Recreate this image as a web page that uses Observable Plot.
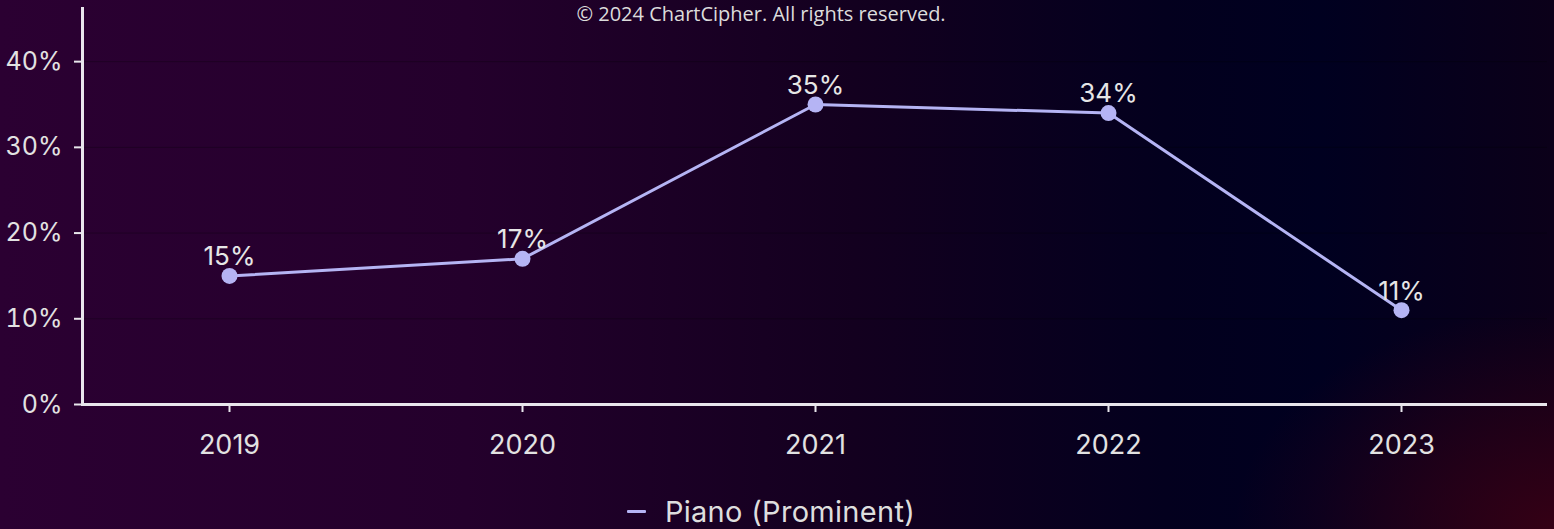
<!DOCTYPE html>
<html>
<head>
<meta charset="utf-8">
<script src="https://cdn.jsdelivr.net/npm/d3@7"></script>
<script src="https://cdn.jsdelivr.net/npm/@observablehq/plot@0.6"></script>
<style>
  html, body { margin: 0; padding: 0; }
  body {
    width: 1554px; height: 529px; overflow: hidden; position: relative;
    background:
      radial-gradient(ellipse 320px 220px at 100% 100%, rgba(60,0,20,0.85), rgba(60,0,20,0) 100%),
      linear-gradient(to right, #2b0032 0%, #24002c 30%, #13001f 55%, #03001e 75%, #000020 85%, #0b0019 100%);
    font-family: Inter, "Noto Sans", sans-serif;
  }
  #caption {
    position: absolute; top: 0px; left: -16px; width: 1554px; text-align: center;
    font-family: "Open Sans", sans-serif; font-size: 20px; line-height: 28px; color: #dcdcdc;
  }
  #legend {
    display: flex; justify-content: center; align-items: center; gap: 19px;
    padding-top: 24px; color: #dedede; font-size: 29px; letter-spacing: 0.3px; margin-left: -12px;
  }
  #legend .sw { width: 19px; height: 3px; background: #b5b4f4; border-radius: 1px; }
</style>
</head>
<body>
<div id="chart"></div>
<div id="legend"><span class="sw"></span><span>Piano (Prominent)</span></div>
<div id="caption">© 2024 ChartCipher. All rights reserved.</div>
<script>
const years = ["2019", "2020", "2021", "2022", "2023"];
const pianoValues = [15, 17, 35, 34, 11];
const yTicks = [0, 10, 20, 30, 40];

const data = years.map((y, i) => ({year: y, value: pianoValues[i]}));
const fmt = d => d + "%";
const lineColor = "#b5b4f4";
const axisColor = "#e8e6ec";

const chart = Plot.plot({
  width: 1554,
  height: 470,
  marginTop: 8,
  marginLeft: 82,
  marginRight: 7,
  marginBottom: 66,
  style: {background: "transparent", color: "#e2e2e2", fontFamily: "Inter, 'Noto Sans', sans-serif", fontSize: "25px"},
  x: {type: "point", domain: years, padding: 0.5, label: null},
  y: {domain: [0, 46.2], label: null},
  marks: [
    Plot.gridY(yTicks, {stroke: "#000000", strokeOpacity: 0.25, strokeWidth: 1}),
    Plot.axisY({ticks: yTicks, tickFormat: fmt, tickSize: 8, tickPadding: 12, stroke: axisColor, strokeWidth: 2, fill: "#e2e2e2", fontSize: 25, label: null}),
    Plot.axisX({tickSize: 8, tickPadding: 22, stroke: axisColor, strokeWidth: 2, fill: "#e2e2e2", fontSize: 27, label: null}),
    Plot.frame({anchor: "left", stroke: axisColor, strokeWidth: 3}),
    Plot.ruleY([0], {stroke: axisColor, strokeWidth: 3}),
    Plot.line(data, {x: "year", y: "value", stroke: lineColor, strokeWidth: 3}),
    Plot.dot(data, {x: "year", y: "value", r: 8, fill: lineColor, stroke: "none"}),
    Plot.text(data, {x: "year", y: "value", text: d => fmt(d.value), dy: -19, fill: "#e6e6e6", fontSize: 26})
  ]
});
document.getElementById("chart").appendChild(chart);
</script>
</body>
</html>
